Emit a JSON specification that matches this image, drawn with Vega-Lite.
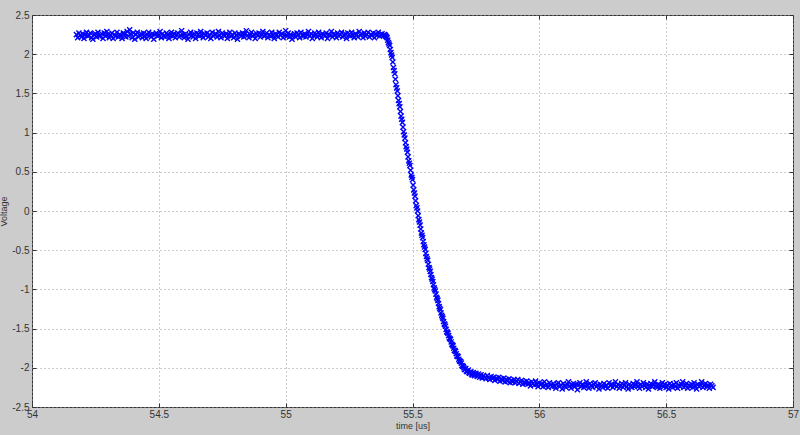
{
 "$schema": "https://vega.github.io/schema/vega-lite/v6.json",
 "width": 761, "height": 392,
 "autosize": {"type": "none"},
 "padding": {"left": 32, "top": 15, "right": 7, "bottom": 28},
 "background": "#cccccc",
 "config": {
  "view": {"fill": "#ffffff", "stroke": "#333333", "strokeWidth": 1},
  "axis": {"labelFont": "Liberation Sans", "titleFont": "Liberation Sans", "labelFontSize": 10, "titleFontSize": 9, "titleFontWeight": "normal", "labelColor": "#333333", "titleColor": "#333333", "domain": false, "tickColor": "#333333", "tickSize": -4, "gridColor": "#999999", "gridDash": [1, 3], "gridOpacity": 1, "gridWidth": 1, "labelFlush": false, "labelOverlap": false}
 },
 "layer": [
  {
   "data": {"values": [
{"t":54.175,"v":2.25},{"t":54.180,"v":2.21},{"t":54.185,"v":2.27},{"t":54.190,"v":2.24},{"t":54.195,"v":2.22},{"t":54.200,"v":2.26},{"t":54.205,"v":2.20},{"t":54.210,"v":2.25},{"t":54.215,"v":2.28},{"t":54.220,"v":2.23},
{"t":54.225,"v":2.24},{"t":54.230,"v":2.27},{"t":54.235,"v":2.21},{"t":54.240,"v":2.19},{"t":54.245,"v":2.25},{"t":54.250,"v":2.26},{"t":54.255,"v":2.22},{"t":54.260,"v":2.28},{"t":54.265,"v":2.23},{"t":54.270,"v":2.24},
{"t":54.275,"v":2.26},{"t":54.280,"v":2.20},{"t":54.285,"v":2.27},{"t":54.290,"v":2.23},{"t":54.295,"v":2.29},{"t":54.300,"v":2.25},{"t":54.305,"v":2.21},{"t":54.310,"v":2.24},{"t":54.315,"v":2.27},{"t":54.320,"v":2.20},
{"t":54.325,"v":2.25},{"t":54.330,"v":2.23},{"t":54.335,"v":2.28},{"t":54.340,"v":2.22},{"t":54.345,"v":2.25},{"t":54.350,"v":2.24},{"t":54.355,"v":2.20},{"t":54.360,"v":2.27},{"t":54.365,"v":2.26},{"t":54.370,"v":2.22},
{"t":54.375,"v":2.29},{"t":54.380,"v":2.23},{"t":54.385,"v":2.31},{"t":54.390,"v":2.26},{"t":54.395,"v":2.21},{"t":54.400,"v":2.27},{"t":54.405,"v":2.19},{"t":54.410,"v":2.25},{"t":54.415,"v":2.28},{"t":54.420,"v":2.22},
{"t":54.425,"v":2.24},{"t":54.430,"v":2.26},{"t":54.435,"v":2.21},{"t":54.440,"v":2.27},{"t":54.445,"v":2.23},{"t":54.450,"v":2.20},{"t":54.455,"v":2.25},{"t":54.460,"v":2.28},{"t":54.465,"v":2.24},{"t":54.470,"v":2.22},
{"t":54.475,"v":2.26},{"t":54.480,"v":2.19},{"t":54.485,"v":2.25},{"t":54.490,"v":2.27},{"t":54.495,"v":2.23},{"t":54.500,"v":2.24},{"t":54.505,"v":2.29},{"t":54.510,"v":2.21},{"t":54.515,"v":2.26},{"t":54.520,"v":2.23},
{"t":54.525,"v":2.22},{"t":54.530,"v":2.27},{"t":54.535,"v":2.25},{"t":54.540,"v":2.20},{"t":54.545,"v":2.24},{"t":54.550,"v":2.28},{"t":54.555,"v":2.23},{"t":54.560,"v":2.26},{"t":54.565,"v":2.21},{"t":54.570,"v":2.25},
{"t":54.575,"v":2.27},{"t":54.580,"v":2.22},{"t":54.585,"v":2.24},{"t":54.590,"v":2.30},{"t":54.595,"v":2.25},{"t":54.600,"v":2.21},{"t":54.605,"v":2.26},{"t":54.610,"v":2.23},{"t":54.615,"v":2.19},{"t":54.620,"v":2.25},
{"t":54.625,"v":2.28},{"t":54.630,"v":2.24},{"t":54.635,"v":2.22},{"t":54.640,"v":2.26},{"t":54.645,"v":2.20},{"t":54.650,"v":2.27},{"t":54.655,"v":2.25},{"t":54.660,"v":2.23},{"t":54.665,"v":2.29},{"t":54.670,"v":2.24},
{"t":54.675,"v":2.21},{"t":54.680,"v":2.26},{"t":54.685,"v":2.24},{"t":54.690,"v":2.27},{"t":54.695,"v":2.22},{"t":54.700,"v":2.25},{"t":54.705,"v":2.20},{"t":54.710,"v":2.28},{"t":54.715,"v":2.23},{"t":54.720,"v":2.25},
{"t":54.725,"v":2.26},{"t":54.730,"v":2.22},{"t":54.735,"v":2.29},{"t":54.740,"v":2.24},{"t":54.745,"v":2.21},{"t":54.750,"v":2.27},{"t":54.755,"v":2.25},{"t":54.760,"v":2.23},{"t":54.765,"v":2.26},{"t":54.770,"v":2.20},
{"t":54.775,"v":2.24},{"t":54.780,"v":2.28},{"t":54.785,"v":2.23},{"t":54.790,"v":2.25},{"t":54.795,"v":2.21},{"t":54.800,"v":2.27},{"t":54.805,"v":2.24},{"t":54.810,"v":2.19},{"t":54.815,"v":2.26},{"t":54.820,"v":2.25},
{"t":54.825,"v":2.23},{"t":54.830,"v":2.27},{"t":54.835,"v":2.22},{"t":54.840,"v":2.26},{"t":54.845,"v":2.30},{"t":54.850,"v":2.24},{"t":54.855,"v":2.21},{"t":54.860,"v":2.25},{"t":54.865,"v":2.28},{"t":54.870,"v":2.23},
{"t":54.875,"v":2.25},{"t":54.880,"v":2.20},{"t":54.885,"v":2.26},{"t":54.890,"v":2.24},{"t":54.895,"v":2.27},{"t":54.900,"v":2.22},{"t":54.905,"v":2.25},{"t":54.910,"v":2.29},{"t":54.915,"v":2.23},{"t":54.920,"v":2.24},
{"t":54.925,"v":2.27},{"t":54.930,"v":2.21},{"t":54.935,"v":2.25},{"t":54.940,"v":2.23},{"t":54.945,"v":2.28},{"t":54.950,"v":2.24},{"t":54.955,"v":2.20},{"t":54.960,"v":2.26},{"t":54.965,"v":2.25},{"t":54.970,"v":2.22},
{"t":54.975,"v":2.28},{"t":54.980,"v":2.24},{"t":54.985,"v":2.26},{"t":54.990,"v":2.21},{"t":54.995,"v":2.25},{"t":55.000,"v":2.30},{"t":55.005,"v":2.23},{"t":55.010,"v":2.27},{"t":55.015,"v":2.22},{"t":55.020,"v":2.25},
{"t":55.025,"v":2.19},{"t":55.030,"v":2.24},{"t":55.035,"v":2.26},{"t":55.040,"v":2.22},{"t":55.045,"v":2.27},{"t":55.050,"v":2.25},{"t":55.055,"v":2.21},{"t":55.060,"v":2.28},{"t":55.065,"v":2.24},{"t":55.070,"v":2.23},
{"t":55.075,"v":2.26},{"t":55.080,"v":2.22},{"t":55.085,"v":2.25},{"t":55.090,"v":2.29},{"t":55.095,"v":2.23},{"t":55.100,"v":2.26},{"t":55.105,"v":2.20},{"t":55.110,"v":2.24},{"t":55.115,"v":2.27},{"t":55.120,"v":2.25},
{"t":55.125,"v":2.22},{"t":55.130,"v":2.28},{"t":55.135,"v":2.24},{"t":55.140,"v":2.21},{"t":55.145,"v":2.26},{"t":55.150,"v":2.25},{"t":55.155,"v":2.23},{"t":55.160,"v":2.27},{"t":55.165,"v":2.20},{"t":55.170,"v":2.25},
{"t":55.175,"v":2.24},{"t":55.180,"v":2.29},{"t":55.185,"v":2.22},{"t":55.190,"v":2.26},{"t":55.195,"v":2.25},{"t":55.200,"v":2.21},{"t":55.205,"v":2.27},{"t":55.210,"v":2.23},{"t":55.215,"v":2.25},{"t":55.220,"v":2.28},
{"t":55.225,"v":2.22},{"t":55.230,"v":2.24},{"t":55.235,"v":2.26},{"t":55.240,"v":2.20},{"t":55.245,"v":2.27},{"t":55.250,"v":2.25},{"t":55.255,"v":2.23},{"t":55.260,"v":2.28},{"t":55.265,"v":2.24},{"t":55.270,"v":2.21},
{"t":55.275,"v":2.26},{"t":55.280,"v":2.25},{"t":55.285,"v":2.22},{"t":55.290,"v":2.29},{"t":55.295,"v":2.24},{"t":55.300,"v":2.26},{"t":55.305,"v":2.21},{"t":55.310,"v":2.27},{"t":55.315,"v":2.23},{"t":55.320,"v":2.25},
{"t":55.325,"v":2.28},{"t":55.330,"v":2.22},{"t":55.335,"v":2.25},{"t":55.340,"v":2.24},{"t":55.345,"v":2.27},{"t":55.350,"v":2.21},{"t":55.355,"v":2.26},{"t":55.360,"v":2.24},{"t":55.365,"v":2.28},{"t":55.370,"v":2.23},
{"t":55.375,"v":2.25},{"t":55.380,"v":2.26},{"t":55.385,"v":2.24},
{"t":55.390,"v":2.25},{"t":55.395,"v":2.23},{"t":55.400,"v":2.21},{"t":55.405,"v":2.15},{"t":55.410,"v":2.11},{"t":55.415,"v":2.02},{"t":55.420,"v":1.96},{"t":55.425,"v":1.83},{"t":55.430,"v":1.75},{"t":55.435,"v":1.61},
{"t":55.440,"v":1.53},{"t":55.445,"v":1.41},{"t":55.450,"v":1.33},{"t":55.455,"v":1.21},{"t":55.460,"v":1.13},{"t":55.465,"v":1.01},{"t":55.470,"v":0.93},{"t":55.475,"v":0.82},{"t":55.480,"v":0.75},{"t":55.485,"v":0.64},
{"t":55.490,"v":0.58},{"t":55.495,"v":0.46},{"t":55.500,"v":0.40},{"t":55.505,"v":0.27},{"t":55.510,"v":0.19},{"t":55.515,"v":0.07},{"t":55.520,"v":0.00},{"t":55.525,"v":-0.11},{"t":55.530,"v":-0.18},{"t":55.535,"v":-0.28},
{"t":55.540,"v":-0.34},{"t":55.545,"v":-0.43},{"t":55.550,"v":-0.49},{"t":55.555,"v":-0.58},{"t":55.560,"v":-0.63},{"t":55.565,"v":-0.72},{"t":55.570,"v":-0.77},{"t":55.575,"v":-0.85},{"t":55.580,"v":-0.90},{"t":55.585,"v":-0.98},
{"t":55.590,"v":-1.02},{"t":55.595,"v":-1.10},{"t":55.600,"v":-1.14},{"t":55.605,"v":-1.22},{"t":55.610,"v":-1.26},{"t":55.615,"v":-1.33},{"t":55.620,"v":-1.37},{"t":55.625,"v":-1.44},{"t":55.630,"v":-1.47},{"t":55.635,"v":-1.54},
{"t":55.640,"v":-1.56},{"t":55.645,"v":-1.62},{"t":55.650,"v":-1.64},{"t":55.655,"v":-1.70},{"t":55.660,"v":-1.72},{"t":55.665,"v":-1.78},{"t":55.670,"v":-1.79},{"t":55.675,"v":-1.85},{"t":55.680,"v":-1.86},{"t":55.685,"v":-1.91},
{"t":55.690,"v":-1.92},{"t":55.695,"v":-1.97},{"t":55.700,"v":-1.98},{"t":55.705,"v":-2.02},{"t":55.710,"v":-2.01},{"t":55.715,"v":-2.05},{"t":55.720,"v":-2.03},{"t":55.725,"v":-2.07},{"t":55.730,"v":-2.05},{"t":55.735,"v":-2.09},
{"t":55.740,"v":-2.06},{"t":55.745,"v":-2.10},{"t":55.750,"v":-2.07},
{"t":55.3925,"v":2.24},{"t":55.3975,"v":2.22},{"t":55.4025,"v":2.18},{"t":55.4075,"v":2.13},{"t":55.4125,"v":2.06},{"t":55.4175,"v":1.99},{"t":55.4225,"v":1.90},{"t":55.4275,"v":1.79},{"t":55.4325,"v":1.68},{"t":55.4375,"v":1.57},
{"t":55.4425,"v":1.47},{"t":55.4475,"v":1.37},{"t":55.4525,"v":1.27},{"t":55.4575,"v":1.17},{"t":55.4625,"v":1.07},{"t":55.4675,"v":0.97},{"t":55.4725,"v":0.87},{"t":55.4775,"v":0.79},{"t":55.4825,"v":0.69},{"t":55.4875,"v":0.61},
{"t":55.4925,"v":0.52},{"t":55.4975,"v":0.43},{"t":55.5025,"v":0.33},{"t":55.5075,"v":0.23},{"t":55.5125,"v":0.13},{"t":55.5175,"v":0.04},{"t":55.5225,"v":-0.06},{"t":55.5275,"v":-0.14},{"t":55.5325,"v":-0.23},{"t":55.5375,"v":-0.31},
{"t":55.5425,"v":-0.39},{"t":55.5475,"v":-0.46},{"t":55.5525,"v":-0.54},{"t":55.5575,"v":-0.61},{"t":55.5625,"v":-0.68},{"t":55.5675,"v":-0.74},{"t":55.5725,"v":-0.81},{"t":55.5775,"v":-0.87},{"t":55.5825,"v":-0.94},{"t":55.5875,"v":-1.00},
{"t":55.5925,"v":-1.06},{"t":55.5975,"v":-1.12},{"t":55.6025,"v":-1.18},{"t":55.6075,"v":-1.24},{"t":55.6125,"v":-1.30},{"t":55.6175,"v":-1.35},{"t":55.6225,"v":-1.41},{"t":55.6275,"v":-1.45},{"t":55.6325,"v":-1.51},{"t":55.6375,"v":-1.55},
{"t":55.6425,"v":-1.59},{"t":55.6475,"v":-1.63},{"t":55.6525,"v":-1.67},{"t":55.6575,"v":-1.71},{"t":55.6625,"v":-1.75},{"t":55.6675,"v":-1.78},{"t":55.6725,"v":-1.82},{"t":55.6775,"v":-1.85},{"t":55.6825,"v":-1.89},{"t":55.6875,"v":-1.92},
{"t":55.6925,"v":-1.94},{"t":55.6975,"v":-1.98},{"t":55.7025,"v":-2.00},{"t":55.7075,"v":-2.02},{"t":55.7125,"v":-2.04},{"t":55.7175,"v":-2.04},{"t":55.7225,"v":-2.06},{"t":55.7275,"v":-2.06},{"t":55.7325,"v":-2.08},{"t":55.7375,"v":-2.07},
{"t":55.7425,"v":-2.09},{"t":55.7475,"v":-2.08},
{"t":55.755,"v":-2.11},{"t":55.760,"v":-2.08},{"t":55.765,"v":-2.12},{"t":55.770,"v":-2.09},{"t":55.775,"v":-2.13},{"t":55.780,"v":-2.10},{"t":55.785,"v":-2.12},{"t":55.790,"v":-2.14},{"t":55.795,"v":-2.10},{"t":55.800,"v":-2.13},
{"t":55.805,"v":-2.15},{"t":55.810,"v":-2.11},{"t":55.815,"v":-2.14},{"t":55.820,"v":-2.12},{"t":55.825,"v":-2.16},{"t":55.830,"v":-2.13},{"t":55.835,"v":-2.15},{"t":55.840,"v":-2.12},{"t":55.845,"v":-2.17},{"t":55.850,"v":-2.14},
{"t":55.855,"v":-2.16},{"t":55.860,"v":-2.13},{"t":55.865,"v":-2.18},{"t":55.870,"v":-2.15},{"t":55.875,"v":-2.17},{"t":55.880,"v":-2.14},{"t":55.885,"v":-2.19},{"t":55.890,"v":-2.16},{"t":55.895,"v":-2.18},{"t":55.900,"v":-2.15},
{"t":55.905,"v":-2.19},{"t":55.910,"v":-2.17},{"t":55.915,"v":-2.15},{"t":55.920,"v":-2.20},{"t":55.925,"v":-2.18},{"t":55.930,"v":-2.16},{"t":55.935,"v":-2.21},{"t":55.940,"v":-2.18},{"t":55.945,"v":-2.20},{"t":55.950,"v":-2.17},
{"t":55.955,"v":-2.21},{"t":55.960,"v":-2.19},{"t":55.965,"v":-2.23},{"t":55.970,"v":-2.18},{"t":55.975,"v":-2.20},{"t":55.980,"v":-2.22},{"t":55.985,"v":-2.17},{"t":55.990,"v":-2.21},{"t":55.995,"v":-2.24},{"t":56.000,"v":-2.19},
{"t":56.005,"v":-2.22},{"t":56.010,"v":-2.20},{"t":56.015,"v":-2.24},{"t":56.020,"v":-2.18},{"t":56.025,"v":-2.23},{"t":56.030,"v":-2.21},{"t":56.035,"v":-2.25},{"t":56.040,"v":-2.19},{"t":56.045,"v":-2.22},{"t":56.050,"v":-2.24},
{"t":56.055,"v":-2.20},{"t":56.060,"v":-2.23},{"t":56.065,"v":-2.26},{"t":56.070,"v":-2.21},{"t":56.075,"v":-2.19},{"t":56.080,"v":-2.24},{"t":56.085,"v":-2.22},{"t":56.090,"v":-2.27},{"t":56.095,"v":-2.20},{"t":56.100,"v":-2.23},
{"t":56.105,"v":-2.25},{"t":56.110,"v":-2.21},{"t":56.115,"v":-2.18},{"t":56.120,"v":-2.23},{"t":56.125,"v":-2.26},{"t":56.130,"v":-2.22},{"t":56.135,"v":-2.20},{"t":56.140,"v":-2.24},{"t":56.145,"v":-2.21},{"t":56.150,"v":-2.28},
{"t":56.155,"v":-2.22},{"t":56.160,"v":-2.19},{"t":56.165,"v":-2.24},{"t":56.170,"v":-2.21},{"t":56.175,"v":-2.25},{"t":56.180,"v":-2.23},{"t":56.185,"v":-2.18},{"t":56.190,"v":-2.22},{"t":56.195,"v":-2.26},{"t":56.200,"v":-2.20},
{"t":56.205,"v":-2.23},{"t":56.210,"v":-2.25},{"t":56.215,"v":-2.21},{"t":56.220,"v":-2.19},{"t":56.225,"v":-2.24},{"t":56.230,"v":-2.22},{"t":56.235,"v":-2.27},{"t":56.240,"v":-2.21},{"t":56.245,"v":-2.23},{"t":56.250,"v":-2.25},
{"t":56.255,"v":-2.20},{"t":56.260,"v":-2.24},{"t":56.265,"v":-2.22},{"t":56.270,"v":-2.26},{"t":56.275,"v":-2.19},{"t":56.280,"v":-2.23},{"t":56.285,"v":-2.21},{"t":56.290,"v":-2.25},{"t":56.295,"v":-2.22},{"t":56.300,"v":-2.18},
{"t":56.305,"v":-2.24},{"t":56.310,"v":-2.21},{"t":56.315,"v":-2.26},{"t":56.320,"v":-2.23},{"t":56.325,"v":-2.20},{"t":56.330,"v":-2.25},{"t":56.335,"v":-2.22},{"t":56.340,"v":-2.19},{"t":56.345,"v":-2.24},{"t":56.350,"v":-2.27},
{"t":56.355,"v":-2.21},{"t":56.360,"v":-2.23},{"t":56.365,"v":-2.25},{"t":56.370,"v":-2.20},{"t":56.375,"v":-2.24},{"t":56.380,"v":-2.22},{"t":56.385,"v":-2.18},{"t":56.390,"v":-2.23},{"t":56.395,"v":-2.26},{"t":56.400,"v":-2.21},
{"t":56.405,"v":-2.24},{"t":56.410,"v":-2.19},{"t":56.415,"v":-2.22},{"t":56.420,"v":-2.25},{"t":56.425,"v":-2.21},{"t":56.430,"v":-2.27},{"t":56.435,"v":-2.23},{"t":56.440,"v":-2.20},{"t":56.445,"v":-2.24},{"t":56.450,"v":-2.22},
{"t":56.455,"v":-2.18},{"t":56.460,"v":-2.23},{"t":56.465,"v":-2.25},{"t":56.470,"v":-2.21},{"t":56.475,"v":-2.26},{"t":56.480,"v":-2.22},{"t":56.485,"v":-2.19},{"t":56.490,"v":-2.24},{"t":56.495,"v":-2.21},{"t":56.500,"v":-2.25},
{"t":56.505,"v":-2.22},{"t":56.510,"v":-2.27},{"t":56.515,"v":-2.20},{"t":56.520,"v":-2.23},{"t":56.525,"v":-2.25},{"t":56.530,"v":-2.21},{"t":56.535,"v":-2.24},{"t":56.540,"v":-2.19},{"t":56.545,"v":-2.26},{"t":56.550,"v":-2.22},
{"t":56.555,"v":-2.24},{"t":56.560,"v":-2.21},{"t":56.565,"v":-2.18},{"t":56.570,"v":-2.25},{"t":56.575,"v":-2.23},{"t":56.580,"v":-2.20},{"t":56.585,"v":-2.26},{"t":56.590,"v":-2.22},{"t":56.595,"v":-2.24},{"t":56.600,"v":-2.21},
{"t":56.605,"v":-2.25},{"t":56.610,"v":-2.19},{"t":56.615,"v":-2.23},{"t":56.620,"v":-2.27},{"t":56.625,"v":-2.21},{"t":56.630,"v":-2.24},{"t":56.635,"v":-2.22},{"t":56.640,"v":-2.18},{"t":56.645,"v":-2.25},{"t":56.650,"v":-2.23},
{"t":56.655,"v":-2.20},{"t":56.660,"v":-2.24},{"t":56.665,"v":-2.22},{"t":56.670,"v":-2.26},{"t":56.675,"v":-2.21},{"t":56.680,"v":-2.23},{"t":56.685,"v":-2.25}
   ]},
   "mark": {"type": "point", "shape": "M-1,-1L1,1M-1,1L1,-1", "filled": false, "stroke": "#0000ff", "strokeWidth": 1.4, "size": 26, "opacity": 1},
   "encoding": {
    "x": {"field": "t", "type": "quantitative", "scale": {"domain": [54, 57], "nice": false, "zero": false},
     "axis": {"orient": "bottom", "title": "time [us]", "values": [54, 54.5, 55, 55.5, 56, 56.5, 57], "labelExpr": "'' + datum.value", "labelPadding": 6, "titlePadding": 2, "grid": true}},
    "y": {"field": "v", "type": "quantitative", "scale": {"domain": [-2.5, 2.5], "nice": false, "zero": false},
     "axis": {"orient": "left", "title": "Voltage", "values": [-2.5, -2, -1.5, -1, -0.5, 0, 0.5, 1, 1.5, 2, 2.5], "labelExpr": "'' + datum.value", "labelPadding": 7, "titlePadding": 3, "grid": true}}
   }
  },
  {
   "data": {"values": [{"t": 54, "v": 0}]},
   "mark": {"type": "point", "opacity": 0},
   "encoding": {
    "x": {"field": "t", "type": "quantitative", "scale": {"domain": [54, 57], "nice": false, "zero": false},
     "axis": {"orient": "top", "title": null, "labels": false, "grid": false, "values": [54, 54.5, 55, 55.5, 56, 56.5, 57]}},
    "y": {"field": "v", "type": "quantitative", "scale": {"domain": [-2.5, 2.5], "nice": false, "zero": false},
     "axis": {"orient": "right", "title": null, "labels": false, "grid": false, "values": [-2.5, -2, -1.5, -1, -0.5, 0, 0.5, 1, 1.5, 2, 2.5]}}
   }
  }
 ],
 "resolve": {"axis": {"x": "independent", "y": "independent"}}
}
